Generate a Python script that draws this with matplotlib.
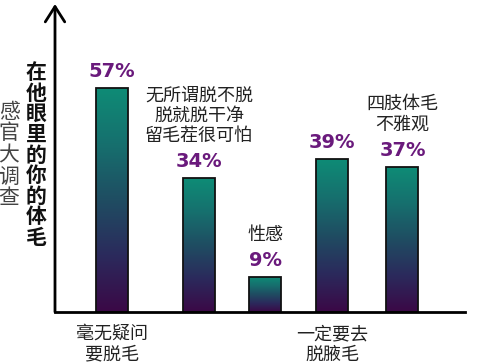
import numpy as np
import matplotlib
matplotlib.use("Agg")
import matplotlib.pyplot as plt
from matplotlib import font_manager
from matplotlib.colors import LinearSegmentedColormap

plt.rcParams['font.family'] = ['Noto Sans CJK SC', 'DejaVu Sans']

# ---- data ----
values = [57, 34, 9, 39, 37]
pct_labels = ["57%", "34%", "9%", "39%", "37%"]
top_labels = ["", "无所谓脱不脱\n脱就脱干净\n留毛茬很可怕", "性感", "", "四肢体毛\n不雅观"]
bottom_labels = ["毫无疑问\n要脱毛", "", "", "一定要去\n脱腋毛", ""]
title = "在他眼里的你的体毛"
subtitle = "感官大调查"

available = {f.name for f in font_manager.fontManager.ttflist}
pct_family = 'DejaVu Sans'
for cand in ['Liberation Sans Narrow', 'DejaVu Sans Condensed']:
    if cand in available:
        pct_family = cand
        break

# ---- layout ----
W, H = 500, 364
fig = plt.figure(figsize=(W / 100, H / 100), dpi=100)
ax_left, ax_right, ax_bottom, ax_top = 55, 465, 312, 4
ax = fig.add_axes([ax_left / W, (H - ax_bottom) / H, (ax_right - ax_left) / W, (ax_bottom - ax_top) / H])
xpos = [57, 144, 210, 277, 347.5]   # bar centres in px from axis
bar_w = 32
px_per_unit = 3.93
ax.axis('off')

cmap = LinearSegmentedColormap.from_list(
    'g', ['#3b0846', '#2b2a5c', '#1f4d62', '#16706e', '#0e8c76'])
grad = np.linspace(0, 1, 256).reshape(-1, 1)

bars = ax.bar(xpos, values, width=bar_w, color='none', edgecolor='#111111', linewidth=1.3, zorder=3)
for b, v in zip(bars, values):
    x0 = b.get_x()
    im = ax.imshow(grad, cmap=cmap, origin='lower', aspect='auto',
                   extent=[x0, x0 + bar_w, 0, v], zorder=2, interpolation='bilinear')
    im.set_clip_path(b)
ax.set_xlim(0, ax_right - ax_left)
ax.set_ylim(0, (ax_bottom - ax_top) / px_per_unit)

pct_color = '#6a1a7c'
pct_size = 16 if pct_family == 'Liberation Sans Narrow' else 14
for x, v, p, t in zip(xpos, values, pct_labels, top_labels):
    ax.annotate(p, (x, v), xytext=(0, 7), textcoords='offset pixels', ha='center', va='bottom',
                fontsize=pct_size, fontweight='bold', color=pct_color, family=[pct_family],
                annotation_clip=False)
    if t:
        ax.annotate(t, (x, v), xytext=(0, 33), textcoords='offset pixels', ha='center', va='bottom',
                    fontsize=13, color='#222222', linespacing=1.18, annotation_clip=False)

for x, t in zip(xpos, bottom_labels):
    if t:
        ax.annotate(t, (x, 0), xytext=(0, -13), textcoords='offset pixels', ha='center', va='top',
                    fontsize=13, color='#222222', linespacing=1.18, annotation_clip=False)

# axes lines
ax.plot([0, ax_right - ax_left], [0, 0], color='black', lw=2, clip_on=False, zorder=4)
ax.annotate('', xy=(0, 1.0), xytext=(0, 0), xycoords='axes fraction',
            arrowprops=dict(arrowstyle='->,head_length=1.1,head_width=0.7', lw=2, color='black',
                            shrinkA=0, shrinkB=0))

fig.text(36 / W, 1 - 155 / H, "\n".join(title), ha='center', va='center', fontsize=15,
         fontweight='bold', color='#111111', linespacing=0.98)
fig.text(9 / W, 1 - 155 / H, "\n".join(subtitle), ha='center', va='center', fontsize=15,
         fontweight='light', color='#444444', linespacing=0.98)

fig.savefig('out.png', dpi=100)
